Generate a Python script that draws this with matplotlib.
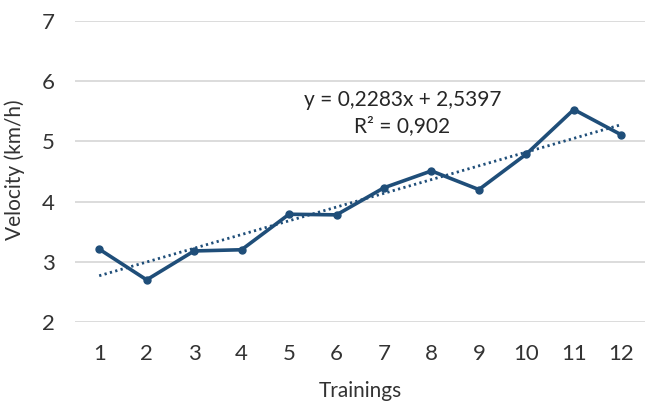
import matplotlib.pyplot as plt
import numpy as np

# training sessions and measured velocity
trainings = [1, 2, 3, 4, 5, 6, 7, 8, 9, 10, 11, 12]
velocity = [3.21, 2.70, 3.18, 3.20, 3.79, 3.78, 4.23, 4.51, 4.20, 4.79, 5.53, 5.11]

# linear trend coefficients
slope = 0.2283
intercept = 2.5397
r_squared = 0.902

blue = "#1f4e79"
plt.rcParams['font.family'] = ['Lato', 'DejaVu Sans']

fig = plt.figure(figsize=(6.45, 4.05), dpi=100)
ax = fig.add_axes([0.117, 0.205, 0.883, 0.743])

x = np.array(trainings)
ax.plot(x, velocity, color=blue, lw=2.6, marker="o", ms=5, zorder=3)

xt = np.array([trainings[0], trainings[-1]])
ax.plot(xt, slope * xt + intercept, color=blue, lw=2, ls=(0, (0.8, 1.2)), zorder=2)

ax.set_xlim(0.5, 12.5)
ax.set_ylim(2, 7)
ax.set_xticks(trainings)
ax.set_yticks([2, 3, 4, 5, 6, 7])
ax.grid(axis="y", color="#d9d9d9", lw=1.3)
ax.set_axisbelow(True)
for s in ax.spines.values():
    s.set_visible(False)
ax.tick_params(length=0, labelsize=16, colors="#333333")
ax.tick_params(axis="x", pad=16)
ax.tick_params(axis="y", pad=15)

ax.set_xlabel("Trainings", fontsize=15, color="#333333", labelpad=12)
ax.set_ylabel("Velocity (km/h)", fontsize=15, color="#333333")
ax.yaxis.set_label_coords(-0.088, 0.505)

eq = "y = {}x + {}\nR² = {}".format(str(slope).replace(".", ","),
                                     str(intercept).replace(".", ","),
                                     str(r_squared).replace(".", ","))
ax.text(7.39, 5.47, eq, ha="center", va="center", fontsize=15,
        color="#262626", linespacing=1.35)

fig.savefig("out.png", dpi=100)
